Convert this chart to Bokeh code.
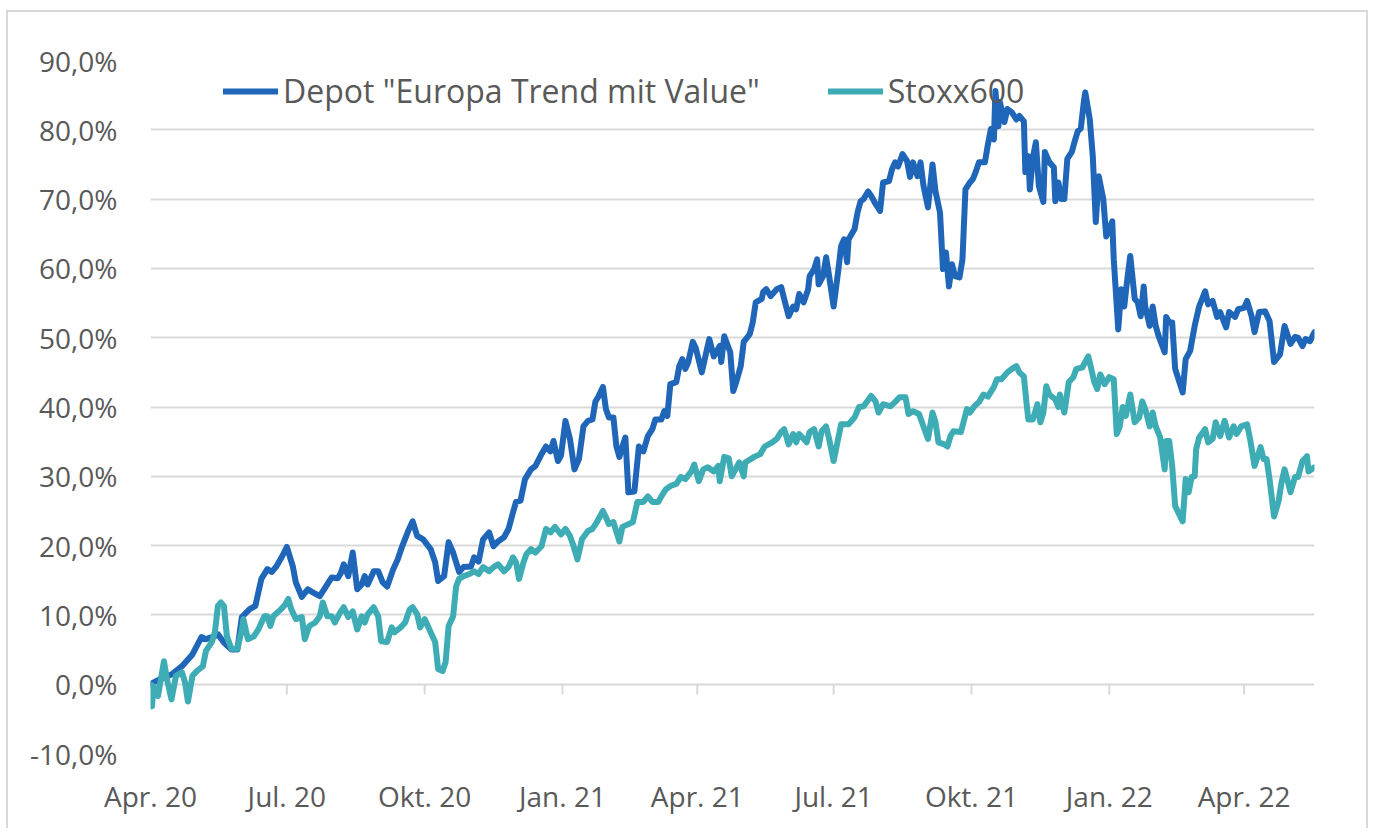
import pandas as pd
from bokeh.plotting import figure
from bokeh.models import (Range1d, FixedTicker, CustomJSTickFormatter, Legend, LegendItem,
                          ColumnDataSource)
from bokeh.embed import file_html
from bokeh.resources import INLINE

# ---------------- data ----------------
dep_dates = ["2020-04-01","2020-04-07","2020-04-15","2020-04-22","2020-04-29","2020-05-05","2020-05-08","2020-05-12","2020-05-16","2020-05-20","2020-05-25","2020-05-29","2020-06-01","2020-06-06","2020-06-10","2020-06-14","2020-06-18","2020-06-21","2020-06-24","2020-06-28","2020-07-01","2020-07-05","2020-07-07","2020-07-11","2020-07-15","2020-07-18","2020-07-23","2020-07-28","2020-07-31","2020-08-04","2020-08-06","2020-08-08","2020-08-11","2020-08-14","2020-08-17","2020-08-20","2020-08-22","2020-08-24","2020-08-28","2020-08-31","2020-09-03","2020-09-06","2020-09-10","2020-09-13","2020-09-16","2020-09-20","2020-09-23","2020-09-26","2020-09-30","2020-10-05","2020-10-08","2020-10-10","2020-10-14","2020-10-17","2020-10-20","2020-10-24","2020-10-27","2020-11-01","2020-11-03","2020-11-06","2020-11-09","2020-11-13","2020-11-16","2020-11-19","2020-11-23","2020-11-26","2020-11-29","2020-12-01","2020-12-04","2020-12-07","2020-12-11","2020-12-14","2020-12-18","2020-12-21","2020-12-24","2020-12-26","2020-12-29","2020-12-31","2021-01-03","2021-01-06","2021-01-09","2021-01-12","2021-01-15","2021-01-18","2021-01-21","2021-01-23","2021-01-25","2021-01-28","2021-01-30","2021-02-01","2021-02-04","2021-02-06","2021-02-08","2021-02-10","2021-02-12","2021-02-14","2021-02-18","2021-02-21","2021-02-24","2021-02-27","2021-03-02","2021-03-04","2021-03-08","2021-03-10","2021-03-12","2021-03-14","2021-03-18","2021-03-20","2021-03-22","2021-03-24","2021-03-26","2021-03-29","2021-03-31","2021-04-04","2021-04-07","2021-04-09","2021-04-12","2021-04-16","2021-04-17","2021-04-19","2021-04-23","2021-04-25","2021-04-27","2021-04-30","2021-05-02","2021-05-06","2021-05-08","2021-05-10","2021-05-14","2021-05-15","2021-05-17","2021-05-20","2021-05-24","2021-05-27","2021-05-29","2021-06-01","2021-06-04","2021-06-06","2021-06-08","2021-06-11","2021-06-14","2021-06-15","2021-06-18","2021-06-20","2021-06-21","2021-06-24","2021-06-26","2021-06-28","2021-07-01","2021-07-04","2021-07-06","2021-07-08","2021-07-10","2021-07-11","2021-07-15","2021-07-17","2021-07-19","2021-07-21","2021-07-24","2021-07-26","2021-07-29","2021-08-01","2021-08-03","2021-08-07","2021-08-09","2021-08-11","2021-08-13","2021-08-16","2021-08-19","2021-08-21","2021-08-23","2021-08-26","2021-08-28","2021-08-30","2021-09-02","2021-09-05","2021-09-07","2021-09-10","2021-09-12","2021-09-14","2021-09-16","2021-09-18","2021-09-20","2021-09-23","2021-09-25","2021-09-27","2021-09-30","2021-10-02","2021-10-04","2021-10-06","2021-10-10","2021-10-12","2021-10-14","2021-10-16","2021-10-17","2021-10-19","2021-10-20","2021-10-23","2021-10-25","2021-10-28","2021-10-31","2021-11-02","2021-11-05","2021-11-06","2021-11-08","2021-11-09","2021-11-11","2021-11-13","2021-11-15","2021-11-18","2021-11-19","2021-11-22","2021-11-25","2021-11-26","2021-11-28","2021-11-30","2021-12-02","2021-12-04","2021-12-07","2021-12-09","2021-12-11","2021-12-13","2021-12-15","2021-12-16","2021-12-19","2021-12-21","2021-12-23","2021-12-25","2021-12-28","2021-12-30","2022-01-03","2022-01-04","2022-01-07","2022-01-09","2022-01-11","2022-01-13","2022-01-15","2022-01-18","2022-01-20","2022-01-22","2022-01-24","2022-01-25","2022-01-28","2022-01-30","2022-02-01","2022-02-03","2022-02-07","2022-02-08","2022-02-10","2022-02-12","2022-02-14","2022-02-19","2022-02-21","2022-02-24","2022-02-27","2022-03-02","2022-03-06","2022-03-08","2022-03-11","2022-03-14","2022-03-16","2022-03-20","2022-03-22","2022-03-26","2022-03-28","2022-04-01","2022-04-03","2022-04-06","2022-04-08","2022-04-11","2022-04-15","2022-04-18","2022-04-21","2022-04-25","2022-04-28","2022-05-02","2022-05-05","2022-05-07","2022-05-10","2022-05-12","2022-05-15","2022-05-18"]
dep_values = [0.0,0.7,1.4,2.6,4.3,6.8,6.5,6.8,7.2,6.0,5.0,5.0,9.7,10.8,11.3,15.2,16.6,16.2,17.0,18.5,19.8,17.0,14.7,12.6,13.7,13.3,12.7,14.4,15.4,15.3,16.0,17.3,15.6,19.0,13.7,14.4,15.6,14.4,16.3,16.3,14.7,14.1,16.6,18.0,19.9,22.1,23.5,21.4,20.9,19.5,17.6,14.9,15.6,20.5,19.0,16.2,16.9,17.0,18.3,17.7,20.9,21.9,19.9,20.6,21.2,22.4,24.8,26.3,26.5,29.6,31.0,31.5,33.2,34.3,33.6,35.1,32.2,33.0,38.0,35.4,31.0,32.5,37.2,38.0,38.2,40.8,41.5,42.9,39.7,38.5,38.5,34.3,32.8,34.3,35.6,27.7,27.8,34.3,33.6,35.8,36.8,38.2,38.2,39.4,38.7,43.3,43.6,45.9,46.9,45.5,46.5,49.4,48.5,45.0,47.9,49.8,47.3,48.8,46.5,50.2,47.9,42.3,43.6,45.9,49.4,50.5,52.2,55.1,55.6,56.6,57.0,56.0,57.0,57.3,55.6,53.1,54.5,54.1,56.3,55.1,57.0,58.9,59.9,61.3,57.7,58.9,61.6,58.9,54.5,59.5,63.2,64.2,60.9,64.2,65.7,68.1,69.7,70.0,71.1,70.5,69.3,68.3,72.4,72.6,74.3,75.3,74.7,76.5,75.5,73.2,75.3,73.3,75.3,71.9,68.8,75.0,71.1,68.1,59.9,62.3,57.4,60.6,58.9,58.7,61.3,71.4,72.4,72.9,74.0,75.3,75.3,77.9,80.1,78.6,85.6,80.5,84.0,81.1,83.0,82.5,81.5,82.0,81.2,73.9,76.2,71.4,76.0,78.2,71.9,69.6,76.8,75.3,74.6,69.7,72.4,70.0,70.0,75.8,76.8,78.4,79.8,80.2,84.0,85.4,81.5,76.2,66.7,73.3,70.0,64.6,66.8,61.3,51.2,57.0,54.5,58.4,61.8,55.6,55.1,53.1,57.4,54.5,51.7,54.5,51.7,50.2,47.9,53.0,52.2,52.2,45.5,42.1,46.9,48.1,51.7,54.5,56.7,54.8,55.3,53.0,53.7,51.5,53.7,53.0,54.1,54.3,55.3,53.1,50.8,53.7,53.8,52.4,46.5,47.6,51.7,49.1,50.1,50.0,48.8,49.8,49.5,50.8]

stx_dates = ["2020-04-01","2020-04-02","2020-04-03","2020-04-06","2020-04-10","2020-04-12","2020-04-15","2020-04-18","2020-04-22","2020-04-24","2020-04-26","2020-04-29","2020-05-02","2020-05-06","2020-05-08","2020-05-12","2020-05-14","2020-05-16","2020-05-18","2020-05-20","2020-05-22","2020-05-25","2020-05-29","2020-06-01","2020-06-02","2020-06-05","2020-06-09","2020-06-12","2020-06-16","2020-06-18","2020-06-20","2020-06-22","2020-06-27","2020-06-30","2020-07-02","2020-07-04","2020-07-07","2020-07-11","2020-07-13","2020-07-16","2020-07-20","2020-07-23","2020-07-25","2020-07-28","2020-07-31","2020-08-02","2020-08-06","2020-08-08","2020-08-11","2020-08-14","2020-08-17","2020-08-20","2020-08-22","2020-08-24","2020-08-28","2020-08-31","2020-09-02","2020-09-06","2020-09-09","2020-09-11","2020-09-15","2020-09-18","2020-09-21","2020-09-23","2020-09-26","2020-09-28","2020-10-01","2020-10-05","2020-10-08","2020-10-10","2020-10-13","2020-10-15","2020-10-17","2020-10-20","2020-10-22","2020-10-24","2020-10-27","2020-10-31","2020-11-03","2020-11-06","2020-11-09","2020-11-13","2020-11-16","2020-11-19","2020-11-23","2020-11-26","2020-11-29","2020-12-01","2020-12-03","2020-12-06","2020-12-08","2020-12-11","2020-12-14","2020-12-18","2020-12-21","2020-12-24","2020-12-27","2020-12-31","2021-01-03","2021-01-06","2021-01-08","2021-01-11","2021-01-14","2021-01-18","2021-01-21","2021-01-24","2021-01-28","2021-01-30","2021-02-01","2021-02-04","2021-02-08","2021-02-10","2021-02-14","2021-02-17","2021-02-20","2021-02-24","2021-02-27","2021-03-02","2021-03-06","2021-03-08","2021-03-11","2021-03-14","2021-03-18","2021-03-21","2021-03-24","2021-03-28","2021-03-30","2021-04-02","2021-04-05","2021-04-08","2021-04-12","2021-04-15","2021-04-16","2021-04-19","2021-04-22","2021-04-24","2021-04-29","2021-05-02","2021-05-03","2021-05-09","2021-05-13","2021-05-16","2021-05-21","2021-05-24","2021-05-27","2021-05-29","2021-06-01","2021-06-04","2021-06-06","2021-06-08","2021-06-13","2021-06-15","2021-06-18","2021-06-21","2021-06-23","2021-06-26","2021-06-28","2021-07-01","2021-07-04","2021-07-06","2021-07-11","2021-07-15","2021-07-18","2021-07-21","2021-07-26","2021-07-29","2021-07-31","2021-08-03","2021-08-08","2021-08-11","2021-08-14","2021-08-18","2021-08-20","2021-08-23","2021-08-27","2021-08-30","2021-09-02","2021-09-05","2021-09-07","2021-09-09","2021-09-13","2021-09-15","2021-09-17","2021-09-19","2021-09-24","2021-09-28","2021-09-30","2021-10-03","2021-10-06","2021-10-09","2021-10-12","2021-10-16","2021-10-18","2021-10-21","2021-10-25","2021-10-28","2021-10-31","2021-11-02","2021-11-05","2021-11-07","2021-11-08","2021-11-11","2021-11-14","2021-11-16","2021-11-18","2021-11-20","2021-11-22","2021-11-26","2021-11-28","2021-11-29","2021-12-02","2021-12-05","2021-12-08","2021-12-10","2021-12-14","2021-12-16","2021-12-18","2021-12-20","2021-12-22","2021-12-24","2021-12-26","2021-12-29","2022-01-01","2022-01-04","2022-01-06","2022-01-08","2022-01-10","2022-01-12","2022-01-15","2022-01-18","2022-01-21","2022-01-23","2022-01-25","2022-01-28","2022-01-30","2022-02-01","2022-02-04","2022-02-07","2022-02-08","2022-02-10","2022-02-12","2022-02-14","2022-02-19","2022-02-21","2022-02-23","2022-02-25","2022-02-27","2022-02-28","2022-03-02","2022-03-06","2022-03-08","2022-03-11","2022-03-13","2022-03-16","2022-03-19","2022-03-22","2022-03-25","2022-03-27","2022-03-30","2022-04-03","2022-04-05","2022-04-08","2022-04-12","2022-04-14","2022-04-16","2022-04-18","2022-04-21","2022-04-24","2022-04-26","2022-04-28","2022-04-30","2022-05-02","2022-05-05","2022-05-07","2022-05-10","2022-05-13","2022-05-14","2022-05-18"]
stx_values = [0.0,-3.2,-0.3,-1.7,3.3,0.7,-2.2,1.2,1.7,0.3,-2.5,1.2,1.9,2.6,4.8,6.1,7.5,11.3,11.8,11.3,6.9,5.1,5.1,7.9,9.4,6.5,6.9,7.9,9.8,9.8,8.4,9.8,10.8,11.5,12.3,10.8,9.4,9.7,6.5,8.4,8.9,9.8,11.8,9.8,9.8,8.9,10.5,11.1,9.7,10.5,7.9,9.8,8.9,10.1,11.1,9.8,6.2,6.1,8.2,7.5,8.2,8.9,10.8,11.1,10.1,8.2,9.4,7.5,6.1,2.2,1.9,3.2,8.4,9.8,14.1,15.2,15.6,15.9,16.3,15.9,16.9,16.3,16.9,17.3,16.3,16.9,18.3,17.6,15.2,17.6,18.8,19.5,19.0,19.9,22.4,21.9,22.7,21.6,22.4,21.4,20.2,18.0,20.9,22.1,22.4,23.4,25.0,24.1,23.1,23.4,20.6,22.7,23.1,23.4,26.3,26.3,27.1,26.3,26.3,27.1,28.1,28.6,28.9,29.9,29.6,30.7,31.7,29.3,31.0,31.3,30.7,31.5,29.3,32.8,32.6,30.0,32.0,30.0,32.0,32.8,33.2,34.3,34.9,35.4,36.4,36.8,34.6,36.1,34.9,36.1,34.9,36.4,36.8,34.3,36.5,37.2,35.4,32.2,35.4,37.5,37.5,38.5,40.0,40.1,41.6,40.8,39.2,40.4,40.1,40.7,41.4,41.4,39.0,39.4,39.0,37.2,35.4,39.2,37.8,34.9,34.6,34.3,35.8,36.5,36.4,39.7,39.2,40.1,40.7,41.8,41.5,42.9,44.0,44.0,45.0,45.5,45.9,45.0,44.4,40.1,38.2,38.2,40.4,37.8,39.2,43.0,41.8,41.1,40.0,41.8,39.2,43.6,44.3,45.5,45.7,46.5,47.3,45.5,43.6,42.6,44.7,43.3,44.3,44.0,36.1,37.2,40.0,38.7,41.8,37.8,38.5,40.8,39.7,37.2,39.2,37.2,35.6,31.0,35.1,35.1,31.5,25.7,23.5,29.6,27.7,29.9,30.0,33.9,35.6,36.8,34.9,35.4,37.8,35.8,38.0,35.6,37.2,36.1,37.2,37.5,35.4,31.5,34.2,32.5,32.5,29.6,24.2,26.4,29.1,31.0,29.4,27.7,29.9,29.9,32.2,32.9,30.7,31.3]

series_names = ['Depot "Europa Trend mit Value"', "Stoxx600"]
series_colors = ["#1F66B8", "#3EACB4"]

x_tick_dates = ["2020-04-01", "2020-07-01", "2020-10-01", "2021-01-01", "2021-04-01",
                "2021-07-01", "2021-10-01", "2022-01-01", "2022-04-01"]
x_tick_labels = ["Apr. 20", "Jul. 20", "Okt. 20", "Jan. 21", "Apr. 21",
                 "Jul. 21", "Okt. 21", "Jan. 22", "Apr. 22"]
y_ticks = [-10, 0, 10, 20, 30, 40, 50, 60, 70, 80, 90]
y_tick_labels = ["-10,0%", "0,0%", "10,0%", "20,0%", "30,0%", "40,0%",
                 "50,0%", "60,0%", "70,0%", "80,0%", "90,0%"]
x_start, x_end = "2020-04-01", "2022-05-18"

# ---------------- figure ----------------
FONT = "Open Sans"
TXT = "#595959"
GRID = "#D9D9D9"

p = figure(width=1362, height=818, x_axis_type="datetime",
           x_range=Range1d(pd.Timestamp(x_start), pd.Timestamp(x_end)),
           y_range=Range1d(y_ticks[0], y_ticks[-1]),
           output_backend="svg", toolbar_location=None,
           min_border_left=142, min_border_right=56, min_border_top=48, min_border_bottom=77)
p.outline_line_color = None
p.background_fill_color = "white"
p.border_fill_color = "white"
p.styles = {"border-top": "2px solid #D9D9D9", "border-left": "2px solid #D9D9D9",
            "border-right": "2px solid #D9D9D9",
            "margin-left": "6px", "margin-top": "10px"}

p.xgrid.grid_line_color = None
p.ygrid.grid_line_color = GRID
p.ygrid.grid_line_width = 2
p.ygrid.ticker = FixedTicker(ticks=y_ticks)

# y axis
p.yaxis.ticker = FixedTicker(ticks=y_ticks)
p.yaxis.major_label_overrides = {t: l for t, l in zip(y_ticks, y_tick_labels)}
p.yaxis.axis_line_color = None
p.yaxis.major_tick_line_color = None
p.yaxis.minor_tick_line_color = None
p.yaxis.major_tick_out = 0
p.yaxis.major_label_standoff = 33
p.yaxis.major_label_text_font = FONT
p.yaxis.major_label_text_font_size = "28px"
p.yaxis.major_label_text_color = TXT

# x axis
x_tick_ms = [pd.Timestamp(d).value / 1e6 for d in x_tick_dates]
p.xaxis.ticker = FixedTicker(ticks=x_tick_ms)
p.xaxis.formatter = CustomJSTickFormatter(
    args=dict(tvals=x_tick_ms, tlabels=x_tick_labels),
    code="for (let i = 0; i < tvals.length; i++) { if (Math.abs(tvals[i] - tick) < 1) return tlabels[i]; } return '';")
p.xaxis.axis_line_color = None
p.xaxis.major_tick_line_color = None
p.xaxis.minor_tick_line_color = None
p.xaxis.major_tick_out = 0
p.xaxis.major_label_standoff = 23
p.xaxis.major_label_text_font = FONT
p.xaxis.major_label_text_font_size = "28px"
p.xaxis.major_label_text_color = TXT

# small tick marks hanging from the 0 % line (category axis crossing at 0)
tick_src = ColumnDataSource(dict(x=[pd.Timestamp(d) for d in x_tick_dates[1:]]))
p.segment(x0="x", x1="x", y0=0, y1=-1.5, source=tick_src, line_color=GRID, line_width=2)

# series (Depot first, Stoxx600 drawn on top as in the reference)
src_dep = ColumnDataSource(dict(x=pd.to_datetime(dep_dates), y=dep_values))
src_stx = ColumnDataSource(dict(x=pd.to_datetime(stx_dates), y=stx_values))
r_dep = p.line("x", "y", source=src_dep, line_color=series_colors[0], line_width=6,
               line_join="round", line_cap="round")
r_stx = p.line("x", "y", source=src_stx, line_color=series_colors[1], line_width=6,
               line_join="round", line_cap="round")

legend = Legend(items=[LegendItem(label=series_names[0], renderers=[r_dep]),
                       LegendItem(label=series_names[1], renderers=[r_stx])],
                orientation="horizontal", location=(73, 641))
legend.label_text_font = FONT
legend.label_text_font_size = "32px"
legend.label_text_color = TXT
legend.glyph_width = 55
legend.glyph_height = 38
legend.label_height = 38
legend.label_standoff = 5
legend.spacing = 68
legend.padding = 0
legend.margin = 0
legend.border_line_color = None
legend.background_fill_alpha = 0
p.add_layout(legend)

open("out.html", "w").write(file_html(p, INLINE))
